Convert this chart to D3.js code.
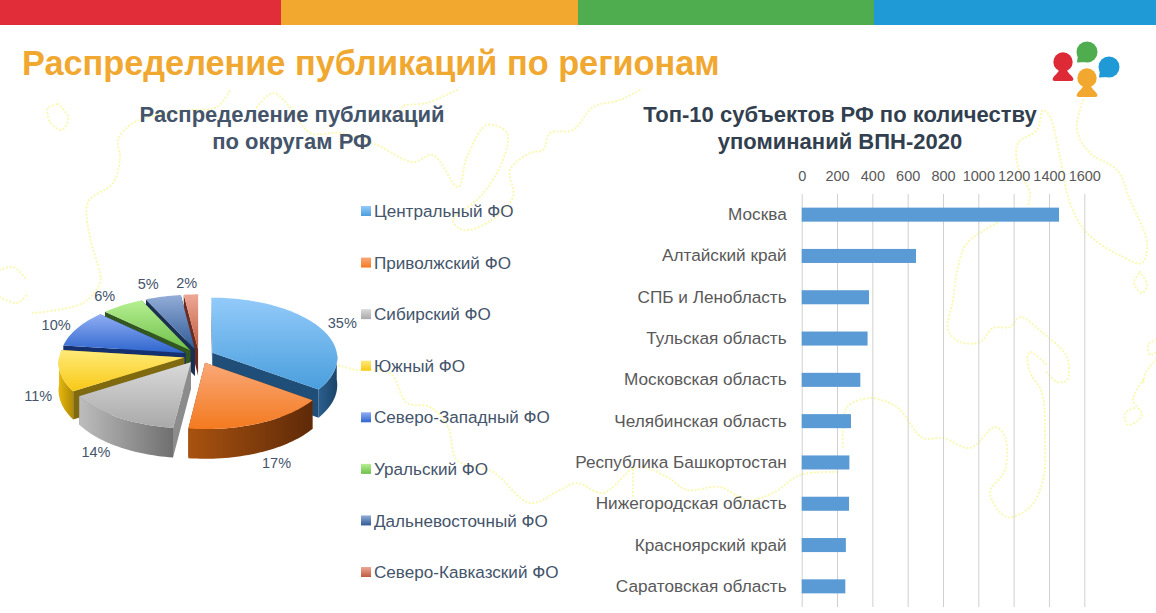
<!DOCTYPE html>
<html>
<head>
<meta charset="utf-8" />
<title>Распределение публикаций по регионам</title>
<script src="https://cdn.jsdelivr.net/npm/d3@7/dist/d3.min.js"></script>
<style>
  html, body { margin: 0; padding: 0; background: #fff; }
  svg { display: block; }
  text { font-family: "Liberation Sans", Arial, sans-serif; }
</style>
</head>
<body>
<svg width="1156" height="613"></svg>
<script>
// data
const districts = ["Центральный ФО", "Приволжский ФО", "Сибирский ФО", "Южный ФО",
  "Северо-Западный ФО", "Уральский ФО", "Дальневосточный ФО", "Северо-Кавказский ФО"];
const districtShares = [35, 17, 14, 11, 10, 6, 5, 2];

const regions = ["Москва", "Алтайский край", "СПБ и Ленобласть", "Тульская область",
  "Московская область", "Челябинская область", "Республика Башкортостан",
  "Нижегородская область", "Красноярский край", "Саратовская область"];
const mentions = [1457, 647, 381, 373, 332, 279, 270, 268, 250, 247];
const mentionTicks = [0, 200, 400, 600, 800, 1000, 1200, 1400, 1600];

// top face light/dark, outer wall left/right, cut wall
const sliceColors = [
  ["#93CBFA", "#4A9EDD", "#2B5F8E", "#1B4468", "#1F4E79"],
  ["#F9A878", "#F47A1F", "#A9520F", "#5F2A08", "#7A3A0C"],
  ["#DADADA", "#A9A9A9", "#BDBDBD", "#6F6F6F", "#8C8C8C"],
  ["#FFEA78", "#F8C815", "#E6B80F", "#B08A05", "#7F6A10"],
  ["#90AEF3", "#2E65CE", "#1B3E8A", "#14306E", "#14306E"],
  ["#B6F092", "#6FBF4A", "#3A6524", "#33581F", "#33581F"],
  ["#93ADD8", "#2F5A96", "#1F3A66", "#1A2F52", "#1A2F52"],
  ["#EEA896", "#C05A3F", "#8A3D2A", "#6D2C1E", "#6D2C1E"]
];

const svg = d3.select("svg");
const defs = svg.append("defs");

// dotted map outline behind everything
const mapLines = [
  [[1083,100],[1077,130],[1090,153],[1117,170],[1130,200],[1147,243],[1142,263],[1123,257],[1087,233],[1070,203],[1060,157],[1050,117],[1043,110],[1037,130],[1018,143],[1018,167],[1030,193],[1028,205]],
  [[997,223],[967,243],[958,267],[953,300],[948,330],[960,342],[980,342],[993,328],[1010,327],[1020,317],[1043,333],[1067,357],[1067,380],[1057,382],[1045,370]],
  [[1027,357],[1030,352],[1047,365]],
  [[1027,357],[1030,372],[1042,393],[1045,437],[1043,480],[1030,507],[1007,517],[990,493],[1005,470],[1005,437],[995,427],[970,448],[943,438],[923,438],[897,407],[877,399],[870,398],[847,407],[843,447]],
  [[837,472],[800,475],[773,493],[747,500],[720,487],[687,490],[667,477],[637,467],[603,493],[577,483],[560,490],[530,503],[493,472],[457,460],[448,427],[430,407],[407,403],[390,373],[357,370],[337,365]],
  [[633,470],[633,497]],
  [[0,270],[13,267],[27,280]],
  [[0,297],[17,303],[28,293]],
  [[33,313],[83,303],[100,283],[100,273],[90,237],[88,202],[113,183],[120,157],[118,140],[133,123],[167,113],[190,110],[217,107],[230,90]],
  [[257,107],[273,93],[290,107],[310,133],[340,133],[377,145],[413,162],[433,155],[458,187],[467,157],[487,125],[507,133],[503,160],[480,197],[453,220],[463,230],[487,223],[513,197],[510,170],[530,153],[543,150],[550,133],[573,130],[593,107],[620,100],[640,90]],
  [[457,90],[427,103],[402,107],[413,123]],
  [[58,104],[68,117],[62,130],[50,122],[48,108],[58,104]],
  [[1140,272],[1147,285],[1142,293],[1134,283],[1140,272]],
  [[1143,380],[1133,400],[1142,415],[1128,425],[1125,413],[1135,408]],
  [[1156,340],[1148,345],[1150,355],[1156,352]],
  [[1156,360],[1146,372],[1143,385]]
];
svg.append("g").selectAll("path").data(mapLines).join("path")
  .attr("d", d3.line().curve(d3.curveCatmullRom))
  .attr("fill", "none")
  .attr("stroke", "#FBF8B4")
  .attr("stroke-width", 2.2)
  .attr("stroke-linecap", "round")
  .attr("stroke-dasharray", "0.1 3.6");

// colored strip at the top
const stripX = d3.scaleOrdinal().domain(["#E12D39", "#F2A72E", "#4FAD50", "#1F9AD6"]).range([0, 281, 578, 874]);
const stripEnd = [281, 578, 874, 1156];
svg.append("g").selectAll("rect").data(stripX.domain()).join("rect")
  .attr("x", d => stripX(d))
  .attr("y", 0)
  .attr("width", (d, i) => stripEnd[i] - stripX(d))
  .attr("height", 25)
  .attr("fill", d => d);

// page title
svg.append("text")
  .attr("x", 22).attr("y", 75)
  .attr("font-size", 34.3).attr("font-weight", "bold").attr("fill", "#F0A830")
  .text("Распределение публикаций по регионам");

// logo: two talking heads and two speech bubbles
const head = (x, y, c) => {
  const g = svg.append("g").attr("transform", `translate(${x},${y})`).attr("fill", c);
  g.append("circle").attr("r", 9.7);
  g.append("path").attr("d", "M-4,7 L4,7 C4,11 9,13 10,16 C11,18 10,19 8,19 L-8,19 C-10,19 -11,18 -10,16 C-9,13 -4,11 -4,7Z");
};
const bubble = (x, y, c) => {
  const g = svg.append("g").attr("transform", `translate(${x},${y})`).attr("fill", c);
  g.append("circle").attr("r", 10.5);
  g.append("path").attr("d", "M-9,3 L-10,10.5 L-1,10 Z");
};
head(1063, 62, "#DE2A36");
bubble(1087, 52, "#4FAD50");
bubble(1109, 67, "#1F9AD6");
head(1087, 78, "#F2A72E");

// chart titles
const titleLines = (x, lines, color) => {
  svg.append("g").selectAll("text").data(lines).join("text")
    .attr("x", x).attr("y", (d, i) => 122 + i * 27)
    .attr("text-anchor", "middle")
    .attr("font-size", 22).attr("font-weight", "bold").attr("fill", color)
    .text(d => d);
};
titleLines(292, ["Распределение публикаций", "по округам РФ"], "#44546A");
titleLines(840, ["Топ-10 субъектов РФ по количеству", "упоминаний ВПН-2020"], "#323F4F");

// ---- 3D pie ----
const cx = 199, cy = 356, rx = 125, ry = 60, depth = 27, blow = 15, persp = 0.08;
const arcs = d3.pie().sort(null)(districtShares);

// angle clockwise from the top, r as part of radius, z as drop below the top face
const project = (d, a, r, z) => {
  const mid = (d.startAngle + d.endAngle) / 2;
  const X = r * rx * Math.sin(a) + blow * Math.sin(mid);
  const Y = -r * ry * Math.cos(a) - blow * (ry / rx) * Math.cos(mid);
  const k = 1 / (1 - persp * Y / ry);
  return [cx + X * k, cy + Y * k + z * k];
};
const line = d3.line();
const angles = (a0, a1) => {
  const n = Math.max(2, Math.ceil((a1 - a0) / 0.03));
  return d3.range(n + 1).map(i => a0 + (a1 - a0) * i / n);
};

arcs.forEach((d, i) => {
  const c = sliceColors[i];
  const top = defs.append("linearGradient").attr("id", "top" + i)
    .attr("x1", 0).attr("y1", 0).attr("x2", 0).attr("y2", 1);
  top.append("stop").attr("offset", 0).attr("stop-color", c[0]);
  top.append("stop").attr("offset", 1).attr("stop-color", c[1]);
  const wall = defs.append("linearGradient").attr("id", "wall" + i)
    .attr("x1", 0).attr("y1", 0).attr("x2", 1).attr("y2", 0);
  wall.append("stop").attr("offset", 0).attr("stop-color", c[2]);
  wall.append("stop").attr("offset", 1).attr("stop-color", c[3]);
});

// back slices first, the front ones cover them
const order = arcs.map((d, i) => i)
  .sort((a, b) => Math.cos((arcs[b].startAngle + arcs[b].endAngle) / 2) - Math.cos((arcs[a].startAngle + arcs[a].endAngle) / 2));

const pieG = svg.append("g");
order.forEach(i => {
  const d = arcs[i];
  const g = pieG.append("g");
  // cut walls
  [d.startAngle, d.endAngle].forEach(a => {
    const pts = [project(d, a, 0, 0), project(d, a, 1, 0), project(d, a, 1, depth), project(d, a, 0, depth)];
    g.append("path").attr("d", line(pts) + "Z").attr("fill", sliceColors[i][4]);
  });
  // outer wall, only the part turned to the viewer
  const a0 = Math.max(d.startAngle, Math.PI / 2), a1 = Math.min(d.endAngle, Math.PI * 1.5);
  if (a1 > a0) {
    const as = angles(a0, a1);
    const pts = as.map(a => project(d, a, 1, 0)).concat(as.slice().reverse().map(a => project(d, a, 1, depth)));
    g.append("path").attr("d", line(pts) + "Z").attr("fill", `url(#wall${i})`);
  }
  // top face
  const face = [project(d, 0, 0, 0)].concat(angles(d.startAngle, d.endAngle).map(a => project(d, a, 1, 0)));
  g.append("path").attr("d", line(face) + "Z").attr("fill", `url(#top${i})`);
});

// percent labels sit around the rim, small shifts to clear the walls
const labelShift = [[3, 1], [5, 26], [-6, 23], [4, 22], [0, 1], [-5, -1], [-9, -3], [-3, -2]];
svg.append("g").selectAll("text").data(arcs).join("text")
  .attr("transform", (d, i) => {
    const mid = (d.startAngle + d.endAngle) / 2;
    const p = project(d, mid, 1.2, 0);
    return `translate(${p[0] + labelShift[i][0]},${p[1] + labelShift[i][1]})`;
  })
  .attr("text-anchor", "middle").attr("dy", "0.35em")
  .attr("font-size", 14.5).attr("fill", "#44546A")
  .text(d => d.data + "%");

// legend
const legendY = d3.scalePoint().domain(districts).range([211, 572]);
const legend = svg.append("g").selectAll("g").data(districts).join("g")
  .attr("transform", d => `translate(361,${legendY(d)})`);
legend.append("rect")
  .attr("x", 0).attr("y", -5).attr("width", 10).attr("height", 10)
  .attr("fill", (d, i) => `url(#top${i})`);
legend.append("text")
  .attr("x", 13).attr("dy", "0.36em")
  .attr("font-size", 17.1).attr("fill", "#44546A")
  .text(d => d);

// ---- bar chart ----
const margin = { left: 801.7, top: 194, right: 71.7, bottom: 6 };
const barW = 1156 - margin.left - margin.right;
const barH = 613 - margin.top - margin.bottom;
const xScale = d3.scaleLinear().domain([0, 1600]).range([0, barW]);
const yScale = d3.scaleBand().domain(regions).range([0, barH]).paddingInner(0.66).paddingOuter(0.33);

const bars = svg.append("g").attr("transform", `translate(${margin.left},${margin.top})`);

const xAxis = bars.append("g")
  .call(d3.axisTop(xScale).tickValues(mentionTicks).tickFormat(d3.format("d")).tickSize(-barH).tickPadding(13));
xAxis.select(".domain").remove();
xAxis.selectAll(".tick line").attr("stroke", "#D0D0D0").attr("stroke-width", 1);
xAxis.selectAll(".tick text")
  .attr("font-family", "'Liberation Sans', Arial, sans-serif")
  .attr("font-size", 14.5).attr("fill", "#595959");

const yAxis = bars.append("g")
  .call(d3.axisLeft(yScale).tickSize(0).tickPadding(15));
yAxis.select(".domain").remove();
yAxis.selectAll(".tick text")
  .attr("font-family", "'Liberation Sans', Arial, sans-serif")
  .attr("font-size", 17.2).attr("fill", "#595959");

bars.selectAll("rect").data(regions).join("rect")
  .attr("x", 0)
  .attr("y", d => yScale(d))
  .attr("width", (d, i) => xScale(mentions[i]))
  .attr("height", yScale.bandwidth())
  .attr("fill", "#5B9BD5");
</script>
</body>
</html>
